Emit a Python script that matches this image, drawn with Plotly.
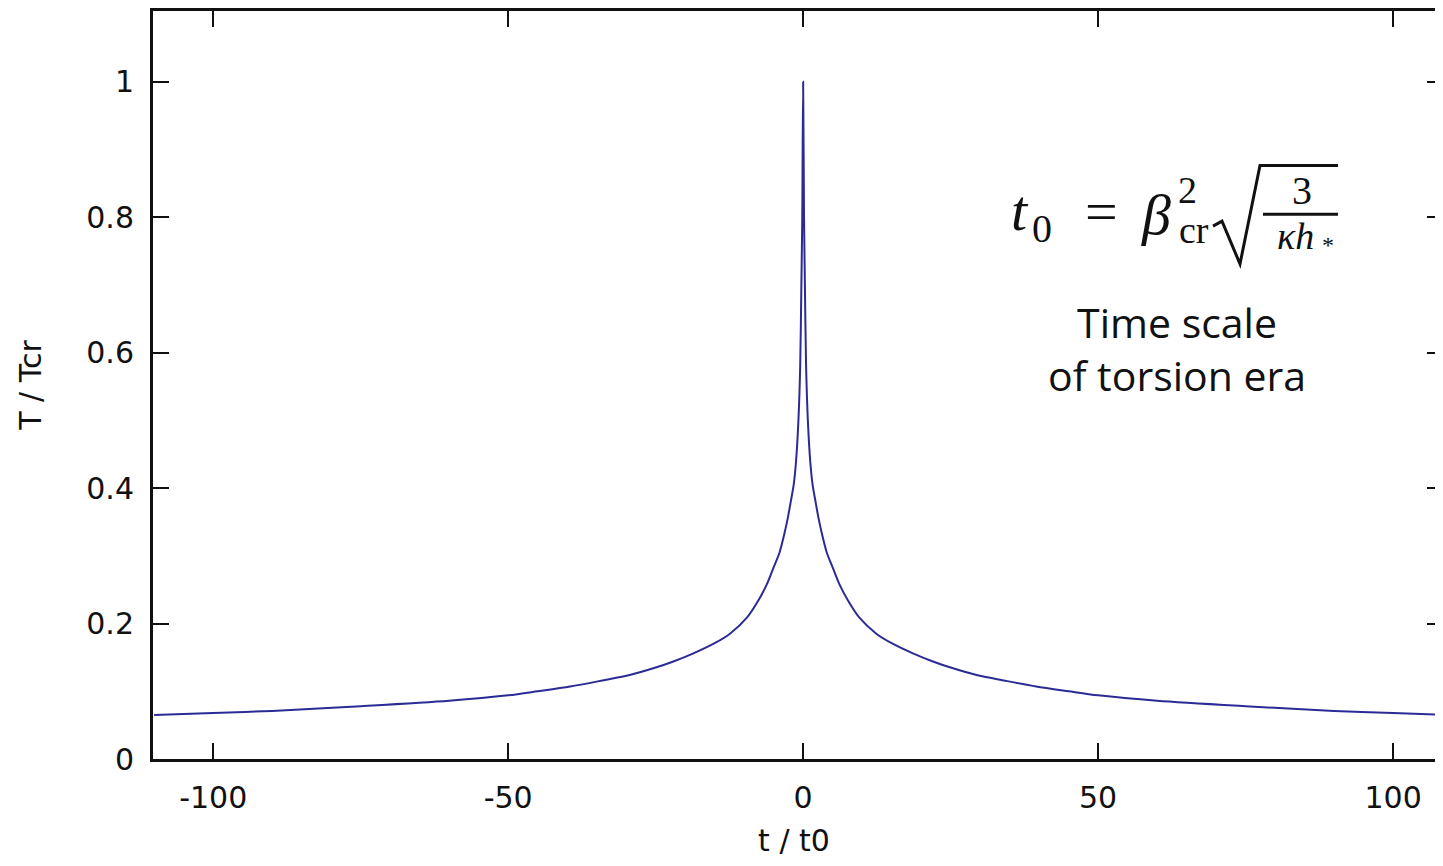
import plotly.graph_objects as go

# ---- data ----
t_pos = [0, 0.15, 0.3, 0.5, 0.8, 1.2, 1.6, 2.1, 2.6, 3.2, 4.0, 5.0, 6.2, 7.6, 9.5, 12.4, 15, 18.6,
         22, 25, 29.4, 34, 39.5, 45, 50, 60, 75, 90, 100, 110]
T_pos = [1.0, 0.80, 0.70, 0.58, 0.50, 0.44, 0.405, 0.38, 0.356, 0.332, 0.305, 0.283, 0.257, 0.234,
         0.209, 0.185, 0.171, 0.156, 0.144, 0.135, 0.124, 0.116, 0.107, 0.100, 0.094, 0.086,
         0.078, 0.071, 0.068, 0.065]

t_vals = [-v for v in reversed(t_pos[1:])] + t_pos
T_vals = list(reversed(T_pos[1:])) + T_pos

x_ticks = [-100, -50, 0, 50, 100]
x_tick_labels = ["-100", "-50", "0", "50", "100"]
y_ticks = [0, 0.2, 0.4, 0.6, 0.8, 1]
y_tick_labels = ["0", "0.2", "0.4", "0.6", "0.8", "1"]

# page offset of the plot div (browser body margin)
OFF = 8
W, H = 1443 - 2 * OFF, 866 - 2 * OFF
# plot-area edges in screen pixels
L, R, TOP, BOT = 153, 1435, 8, 759


def px(x, y):
    return (x - L) / (R - L), (BOT - y) / (BOT - TOP)


fig = go.Figure()
fig.add_trace(go.Scatter(x=t_vals, y=T_vals, mode="lines",
                         line=dict(color="#2b2b96", width=2, shape="spline", smoothing=0.8),
                         showlegend=False, hoverinfo="skip"))
fig.add_trace(go.Scatter(x=[0], y=[None], yaxis="y2", mode="markers",
                         showlegend=False, hoverinfo="skip"))

tickfont = dict(family="DejaVu Sans", size=30, color="#111")
fig.update_layout(
    width=W, height=H,
    margin=dict(l=L - OFF, r=0, t=TOP - OFF, b=(H + OFF) - BOT, pad=0),
    paper_bgcolor="white", plot_bgcolor="white",
    xaxis=dict(range=[-110.2, 107.1], tickvals=x_ticks, ticktext=x_tick_labels,
               ticks="inside", ticklen=16, tickwidth=2, tickcolor="#111",
               showline=True, linewidth=3, linecolor="#111", mirror="ticks",
               showgrid=False, zeroline=False, tickfont=tickfont,
               ticklabelstandoff=10,
               title=dict(text="t / t0", font=dict(family="DejaVu Sans", size=30, color="#111"),
                          standoff=18)),
    yaxis=dict(range=[0, 1.1045], tickvals=y_ticks, ticktext=y_tick_labels,
               ticks="inside", ticklen=16, tickwidth=2, tickcolor="#111",
               showline=True, linewidth=3, linecolor="#111", mirror=False,
               showgrid=False, zeroline=False, tickfont=tickfont,
               ticklabelstandoff=10,
               title=dict(text="T / Tcr", font=dict(family="DejaVu Sans", size=30, color="#111"),
                          standoff=36)),
    yaxis2=dict(range=[0, 1.1045], overlaying="y", side="right", tickvals=y_ticks,
                showticklabels=False, ticks="inside", ticklen=8, tickwidth=2,
                tickcolor="#111", showline=False, showgrid=False, zeroline=False),
)

serif = "Liberation Serif"
ann = []


def add_text(text, x, y, size, xanchor="center", yanchor="middle", family=serif):
    xp, yp = px(x, y)
    ann.append(dict(text=text, x=xp, y=yp, xref="paper", yref="paper",
                    xanchor=xanchor, yanchor=yanchor, showarrow=False,
                    font=dict(family=family, size=size, color="#111")))


# formula t0 = beta^2_cr sqrt(3 / (kappa h*))
add_text("<i>t</i>", 1020, 208, 58)
add_text("0", 1042, 226, 40)
add_text("=", 1101, 209, 58)
add_text("<i>β</i>", 1156, 212, 58)
add_text("2", 1187, 188, 38)
add_text("cr", 1194, 228, 38)
add_text("3", 1302, 188, 40)
add_text("<i>κh</i>", 1295, 234, 38)
add_text("*", 1328, 243, 24)

# Time scale text
add_text("Time scale<br>of torsion era", 1177, 347, 41, family="Open Sans")

fig.update_layout(annotations=ann)

# radical sign and fraction bar
p = [px(1213, 224), px(1222, 219), px(1240, 262), px(1260, 163), px(1338, 163)]
path = "M " + " L ".join(f"{a:.5f},{b:.5f}" for a, b in p)
fig.add_shape(type="path", path=path, xref="paper", yref="paper",
              line=dict(color="#111", width=3))
a0, b0 = px(1263, 212)
a1, b1 = px(1338, 212)
fig.add_shape(type="line", x0=a0, y0=b0, x1=a1, y1=b1, xref="paper", yref="paper",
              line=dict(color="#111", width=3))

fig.write_html("out.html")
